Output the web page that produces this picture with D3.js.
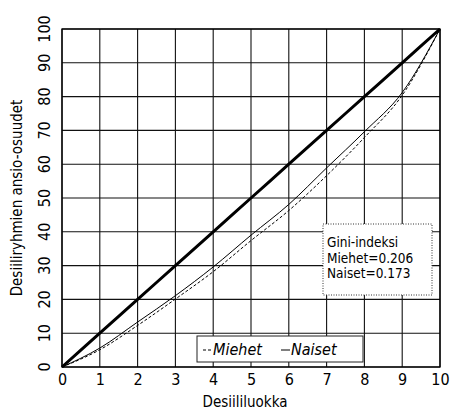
<!DOCTYPE html>
<html>
<head>
<meta charset="utf-8">
<script src="https://cdn.jsdelivr.net/npm/d3@7"></script>
<style>
  body { margin: 0; background: #fff; }
  svg { display: block; font-family: 'DejaVu Sans Condensed', 'DejaVu Sans', sans-serif; }
</style>
</head>
<body>
<div id="chart"></div>
<script>
// Decile classes and cumulative earnings shares (%)
const deciles = [0, 1, 2, 3, 4, 5, 6, 7, 8, 9, 10];
const equality = [0, 10, 20, 30, 40, 50, 60, 70, 80, 90, 100];
const miehet = [0, 5.1, 12.3, 20.1, 28.2, 37.4, 46.3, 56.6, 67.9, 80.4, 100];
const naiset = [0, 5.6, 13.3, 21.1, 29.6, 39.0, 48.1, 58.9, 69.6, 81.2, 100];
const xTicks = [0, 1, 2, 3, 4, 5, 6, 7, 8, 9, 10];
const yTicks = [0, 10, 20, 30, 40, 50, 60, 70, 80, 90, 100];
const giniLines = ['Gini-indeksi', 'Miehet=0.206', 'Naiset=0.173'];

const width = 452, height = 413;
const margin = { top: 29, right: 12, bottom: 46, left: 62 };

const svg = d3.select('#chart')
    .append('svg')
    .attr('width', width)
    .attr('height', height);

const x = d3.scaleLinear().domain([0, 10]).range([margin.left, width - margin.right]);
const y = d3.scaleLinear().domain([0, 100]).range([height - margin.bottom, margin.top]);

// Grid
svg.append('g')
    .selectAll('line')
    .data(xTicks)
    .join('line')
    .attr('x1', d => x(d)).attr('x2', d => x(d))
    .attr('y1', y(0)).attr('y2', y(100))
    .attr('stroke', '#111').attr('stroke-width', 1.1);

svg.append('g')
    .selectAll('line')
    .data(yTicks)
    .join('line')
    .attr('x1', x(0)).attr('x2', x(10))
    .attr('y1', d => y(d)).attr('y2', d => y(d))
    .attr('stroke', '#111').attr('stroke-width', 1.1);

// Frame
svg.append('rect')
    .attr('x', x(0)).attr('y', y(100))
    .attr('width', x(10) - x(0)).attr('height', y(0) - y(100))
    .attr('fill', 'none').attr('stroke', '#000').attr('stroke-width', 1.3);

// Axes (labels only)
const xAxis = svg.append('g')
    .attr('transform', `translate(0,${y(0)})`)
    .call(d3.axisBottom(x).tickValues(xTicks).tickSize(0).tickPadding(4).tickFormat(d3.format('d')));
xAxis.select('.domain').remove();
xAxis.selectAll('text')
    .attr('dy', '0.9em')
    .style('font-size', '16px')
    .style('font-family', "'DejaVu Sans Condensed', sans-serif")
    .attr('fill', '#000');

const yAxis = svg.append('g');
yAxis.selectAll('text')
    .data(yTicks)
    .join('text')
    .attr('transform', d => `translate(50,${y(d)}) rotate(-90)`)
    .attr('text-anchor', 'middle')
    .style('font-size', '16px')
    .attr('fill', '#000')
    .text(d => d);

// Axis titles
svg.append('text')
    .attr('x', (x(0) + x(10)) / 2 - 6)
    .attr('y', 407)
    .attr('text-anchor', 'middle')
    .style('font-size', '15px')
    .text('Desiililuokka');

svg.append('text')
    .attr('transform', `translate(22,${(y(0) + y(100)) / 2}) rotate(-90)`)
    .attr('text-anchor', 'middle')
    .style('font-size', '15px')
    .text('Desiiliryhmien ansio-osuudet');

// Lines
const line = vals => d3.line()
    .x((d, i) => x(deciles[i]))
    .y(d => y(d))
    .curve(d3.curveMonotoneX)(vals);

svg.append('path')
    .attr('d', line(equality))
    .attr('fill', 'none')
    .attr('stroke', '#000')
    .attr('stroke-width', 3);

svg.append('path')
    .attr('d', line(naiset))
    .attr('fill', 'none')
    .attr('stroke', '#000')
    .attr('stroke-width', 1);

svg.append('path')
    .attr('d', line(miehet))
    .attr('fill', 'none')
    .attr('stroke', '#000')
    .attr('stroke-width', 1)
    .attr('stroke-dasharray', '3,2');

// Gini box
const gx = 323, gy = 224;
svg.append('rect')
    .attr('x', gx).attr('y', gy)
    .attr('width', 109).attr('height', 71)
    .attr('fill', '#fff')
    .attr('stroke', '#333')
    .attr('stroke-width', 1)
    .attr('stroke-dasharray', '1,1.5');

svg.append('g')
    .selectAll('text')
    .data(giniLines)
    .join('text')
    .attr('x', gx + 4)
    .attr('y', (d, i) => gy + 23 + i * 15.5)
    .style('font-size', '13.5px')
    .text(d => d);

// Legend
const lx = 197, ly = 336;
svg.append('rect')
    .attr('x', lx).attr('y', ly)
    .attr('width', 166).attr('height', 26)
    .attr('fill', '#fff')
    .attr('stroke', '#222')
    .attr('stroke-width', 1);

const legendItems = [
    { name: 'Miehet', dash: '3,2', x: lx + 6 },
    { name: 'Naiset', dash: null, x: lx + 84 }
];
legendItems.forEach(item => {
    svg.append('line')
        .attr('x1', item.x).attr('x2', item.x + 9)
        .attr('y1', ly + 14).attr('y2', ly + 14)
        .attr('stroke', '#000')
        .attr('stroke-width', 1)
        .attr('stroke-dasharray', item.dash);
    svg.append('text')
        .attr('x', item.x + 10)
        .attr('y', ly + 19)
        .style('font-size', '16px')
        .style('font-style', 'italic')
        .text(item.name);
});
</script>
</body>
</html>
